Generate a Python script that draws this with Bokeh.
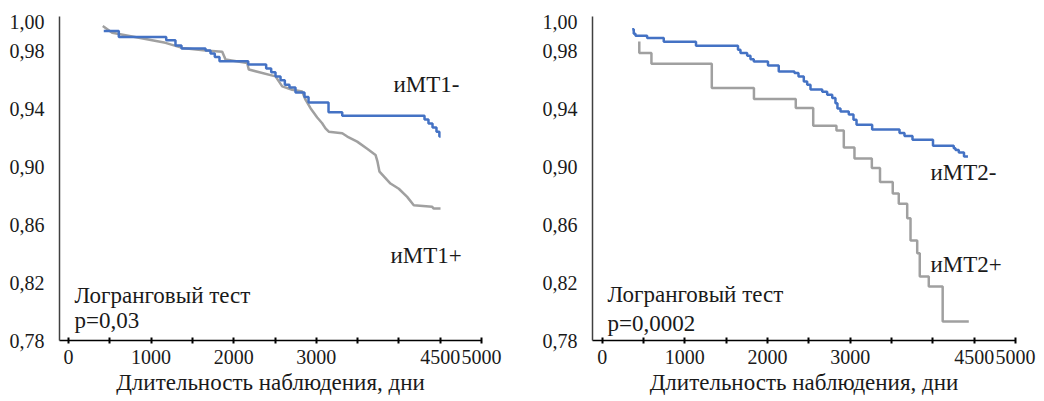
from bokeh.plotting import figure
from bokeh.layouts import row
from bokeh.models import FixedTicker, CustomJSTickFormatter, Label, Range1d, InlineStyleSheet
from bokeh.embed import file_html
from bokeh.resources import INLINE

# ---------------- data ----------------
# Left panel: иМТ1- (blue) and иМТ1+ (gray)
imt1_neg_t = [427, 609, 1183, 1295, 1368, 1659, 1719, 1771, 1828, 2176, 2393, 2454, 2506,
              2567, 2619, 2675, 2748, 2857, 2906, 3148, 3314, 4310, 4358, 4407, 4455, 4490, 4505]
imt1_neg_s = [0.9939, 0.9899, 0.9876, 0.9840, 0.9819, 0.9805, 0.9784, 0.9760, 0.9731, 0.9708,
              0.9680, 0.9654, 0.9626, 0.9599, 0.9569, 0.9550, 0.9515, 0.9483, 0.9446, 0.9378,
              0.9353, 0.9328, 0.9300, 0.9272, 0.9244, 0.9210, 0.9210]

imt1_pos_t = [415, 529, 1174, 1376, 1659, 1861, 1901, 2163, 2183, 2506, 2587, 2708, 2829, 2869,
              2930, 3011, 3071, 3111, 3151, 3314, 3375, 3495, 3616, 3717, 3741, 3765, 3898, 3999,
              4100, 4180, 4403, 4422, 4504]
imt1_pos_s = [0.9974, 0.9927, 0.9858, 0.9823, 0.9805, 0.9797, 0.9742, 0.9719, 0.9673, 0.9626,
              0.9557, 0.9534, 0.9522, 0.9465, 0.9406, 0.9342, 0.9302, 0.9267, 0.9244, 0.9233,
              0.9210, 0.9175, 0.9126, 0.9083, 0.9036, 0.8967, 0.8885, 0.8849, 0.8793, 0.8735,
              0.8724, 0.8712, 0.8712]

# Right panel: иМТ2- (blue) and иМТ2+ (gray)
imt2_neg_t = [363, 382, 403, 544, 745, 1135, 1643, 1673, 1754, 1794, 1834, 2006, 2136, 2326,
              2375, 2439, 2480, 2520, 2662, 2722, 2783, 2822, 2846, 2883, 2983, 3040, 3077, 3266,
              3597, 3657, 3754, 4002, 4253, 4274, 4314, 4377, 4425]
imt2_neg_s = [0.9951, 0.9921, 0.9907, 0.9891, 0.9866, 0.9838, 0.9810, 0.9787, 0.9769, 0.9745,
              0.9729, 0.9702, 0.9660, 0.9649, 0.9626, 0.9591, 0.9568, 0.9536, 0.9519, 0.9499,
              0.9476, 0.9441, 0.9404, 0.9384, 0.9363, 0.9326, 0.9292, 0.9259, 0.9234, 0.9214,
              0.9188, 0.9146, 0.9130, 0.9117, 0.9100, 0.9072, 0.9072]

imt2_pos_t = [449, 449, 596, 1326, 1836, 2342, 2553, 2834, 2923, 3052, 3262, 3361, 3515, 3588,
              3690, 3730, 3811, 3842, 3951, 4119, 4435]
imt2_pos_s = [0.9868, 0.9787, 0.9714, 0.9545, 0.9470, 0.9407, 0.9285, 0.9252, 0.9135, 0.9059,
              0.8993, 0.8896, 0.8817, 0.8745, 0.8646, 0.8492, 0.8404, 0.8243, 0.8173, 0.7931,
              0.7931]

x_tick_labels = [0, 1000, 2000, 3000, 4500, 5000]
x_minor_ticks = [500, 1500, 2500, 3500, 4000]
y_ticks = [0.78, 0.82, 0.86, 0.90, 0.94, 0.98, 1.00]

x_title = "Длительность наблюдения, дни"
test_name = "Логранговый тест"
p_left = "p=0,03"
p_right = "p=0,0002"

BLUE = "#4472C4"
GRAY = "#A0A0A0"
FONT = "Liberation Serif"
FS = "20px"
FS_BIG = "23px"
TXT = "#1a1a1a"

serif_css = InlineStyleSheet(css=":host { font-family: 'Liberation Serif', serif; } "
                                 "text { font-family: 'Liberation Serif', serif !important; }")


def make_fig(x_start, width, border_left, border_right):
    p = figure(width=width, height=401, output_backend="svg", toolbar_location=None,
               x_range=Range1d(x_start, 5000), y_range=Range1d(0.78, 1.004),
               min_border_left=border_left, min_border_right=border_right,
               min_border_top=16, min_border_bottom=61)
    p.stylesheets = [serif_css]
    p.outline_line_color = None
    p.xgrid.visible = False
    p.ygrid.visible = False
    p.background_fill_color = "white"
    p.border_fill_color = "white"

    xa = p.xaxis[0]
    xa.ticker = FixedTicker(ticks=x_tick_labels, minor_ticks=x_minor_ticks)
    xa.axis_line_color = "black"
    xa.axis_line_width = 1.5
    xa.major_tick_line_color = "black"
    xa.major_tick_line_width = 2
    xa.major_tick_in = 3
    xa.major_tick_out = 3
    xa.minor_tick_line_color = "black"
    xa.minor_tick_line_width = 2
    xa.minor_tick_in = 3
    xa.minor_tick_out = 3
    xa.major_label_text_font = FONT
    xa.major_label_text_font_size = FS
    xa.major_label_text_color = TXT
    xa.major_label_standoff = 6
    xa.axis_label = x_title
    xa.axis_label_text_font = FONT
    xa.axis_label_text_font_size = FS_BIG
    xa.axis_label_text_font_style = "normal"
    xa.axis_label_text_color = TXT
    xa.axis_label_standoff = 3

    ya = p.yaxis[0]
    ya.ticker = FixedTicker(ticks=y_ticks)
    ya.formatter = CustomJSTickFormatter(code="return tick.toFixed(2).replace('.', ',');")
    ya.axis_line_color = "#404040"
    ya.axis_line_width = 1.5
    ya.major_tick_line_color = None
    ya.minor_tick_line_color = None
    ya.major_label_text_font = FONT
    ya.major_label_text_font_size = FS
    ya.major_label_text_color = TXT
    ya.major_label_standoff = 9
    return p


def add_label(p, x, y, text):
    p.add_layout(Label(x=x, y=y, text=text, text_font=FONT, text_font_size=FS_BIG,
                       text_color=TXT, text_baseline="middle", text_align="left"))


# ---------------- left panel ----------------
p1 = make_fig(-109, 528, 59, 47)
p1.line(imt1_pos_t, imt1_pos_s, line_color=GRAY, line_width=2.5)
p1.step(imt1_neg_t, imt1_neg_s, mode="after", line_color=BLUE, line_width=2.5)
add_label(p1, 3935, 0.957, "иМТ1-")
add_label(p1, 3898, 0.839, "иМТ1+")
add_label(p1, 73, 0.811, test_name)
add_label(p1, 73, 0.794, p_left)

# ---------------- right panel ----------------
p2 = make_fig(-117, 514, 64, 27)
p2.step(imt2_pos_t, imt2_pos_s, mode="after", line_color=GRAY, line_width=2.5)
p2.step(imt2_neg_t, imt2_neg_s, mode="after", line_color=BLUE, line_width=2.5)
add_label(p2, 3972, 0.896, "иМТ2-")
add_label(p2, 3972, 0.8326, "иМТ2+")
add_label(p2, 64, 0.8118, test_name)
add_label(p2, 64, 0.7918, p_right)

layout = row(p1, p2, spacing=0)
layout.stylesheets = [serif_css]
open("out.html", "w").write(file_html(layout, INLINE))
